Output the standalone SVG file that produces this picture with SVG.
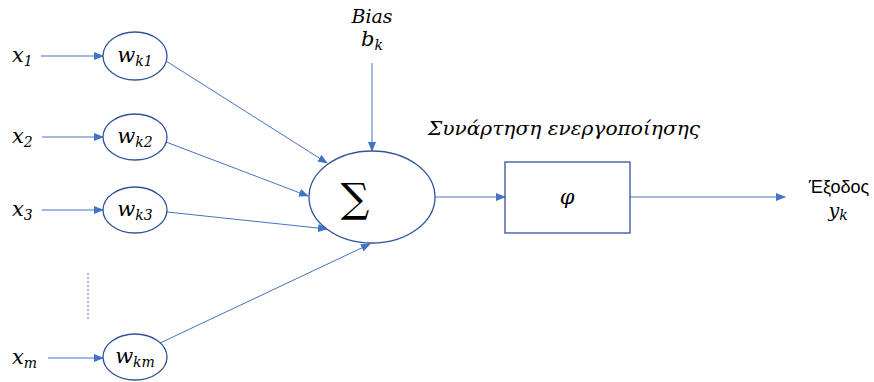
<svg xmlns="http://www.w3.org/2000/svg" width="874" height="382" viewBox="0 0 874 382">
<defs>
<marker id="ah" markerWidth="10" markerHeight="8" refX="9" refY="4" orient="auto" markerUnits="userSpaceOnUse">
<path d="M0,0 L10,4 L0,8 Z" fill="#4472C4"/>
</marker>
<style>
.n{fill:#fff;stroke:#2F5597;stroke-width:1.3}
.c{stroke:#4472C4;stroke-width:1;fill:none}
.a{marker-end:url(#ah)}
.m{font-family:"DejaVu Serif","Liberation Serif",serif;font-style:italic;fill:#000}
.s{font-size:14px}
</style>
</defs>
<rect width="874" height="382" fill="#fff"/>
<g id="connectors">
<line class="c a" x1="41" y1="56" x2="103" y2="56"/>
<line class="c a" x1="42" y1="137" x2="103" y2="137"/>
<line class="c a" x1="42" y1="210" x2="103" y2="210"/>
<line class="c a" x1="48" y1="358" x2="103" y2="358"/>
<line class="c" x1="88" y1="273" x2="88" y2="320" stroke-dasharray="2,2"/>
<line class="c a" x1="166" y1="61" x2="327" y2="163"/>
<line class="c a" x1="166" y1="142" x2="308" y2="196"/>
<line class="c a" x1="167" y1="212" x2="327" y2="229"/>
<line class="c a" x1="158" y1="344" x2="370" y2="244"/>
<line class="c a" x1="372" y1="63" x2="372" y2="151"/>
<line class="c a" x1="435" y1="197" x2="505" y2="197"/>
<line class="c a" x1="630" y1="197" x2="785" y2="197"/>
</g>
<g id="x1"><text class="m" x="12" y="62" font-size="21">x<tspan class="s" dy="4">1</tspan></text></g>
<g id="x2"><text class="m" x="12" y="143" font-size="21">x<tspan class="s" dy="4">2</tspan></text></g>
<g id="x3"><text class="m" x="12" y="216" font-size="21">x<tspan class="s" dy="4">3</tspan></text></g>
<g id="xm"><text class="m" x="12" y="364" font-size="21">x<tspan class="s" dy="4">m</tspan></text></g>
<g id="wk1"><ellipse class="n" cx="135" cy="56" rx="32" ry="24"/><text class="m" x="135" y="62" font-size="21" text-anchor="middle">w<tspan class="s" dy="4">k1</tspan></text></g>
<g id="wk2"><ellipse class="n" cx="135" cy="137" rx="32" ry="23"/><text class="m" x="135" y="143" font-size="21" text-anchor="middle">w<tspan class="s" dy="4">k2</tspan></text></g>
<g id="wk3"><ellipse class="n" cx="135" cy="210" rx="32" ry="23"/><text class="m" x="135" y="216" font-size="21" text-anchor="middle">w<tspan class="s" dy="4">k3</tspan></text></g>
<g id="wkm"><ellipse class="n" cx="135" cy="357" rx="32" ry="23"/><text class="m" x="135" y="363" font-size="21" text-anchor="middle">w<tspan class="s" dy="4">km</tspan></text></g>
<g id="bias"><text class="m" x="372" y="23" font-size="19" text-anchor="middle">Bias</text><text class="m" x="372" y="46" font-size="21" text-anchor="middle">b<tspan class="s" dy="4">k</tspan></text></g>
<g id="sum"><ellipse class="n" cx="372" cy="197" rx="63" ry="46"/><text x="355" y="212" font-family="DejaVu Serif,serif" font-size="40" text-anchor="middle">∑</text></g>
<g id="label"><text x="428" y="135" font-family="DejaVu Serif,serif" font-style="italic" font-size="19" textLength="272" lengthAdjust="spacingAndGlyphs">Συνάρτηση ενεργοποίησης</text></g>
<g id="phi"><rect x="505" y="162" width="125" height="71" fill="#fff" stroke="#2F5597" stroke-width="1.3"/><text class="m" x="567" y="204" font-size="21" text-anchor="middle">φ</text></g>
<g id="out"><text x="839" y="193" font-family="Liberation Sans,Arial,sans-serif" font-size="18" text-anchor="middle">Έξοδος</text><text class="m" x="838" y="217" font-size="19" text-anchor="middle">y<tspan class="s" dy="3">k</tspan></text></g>
</svg>
